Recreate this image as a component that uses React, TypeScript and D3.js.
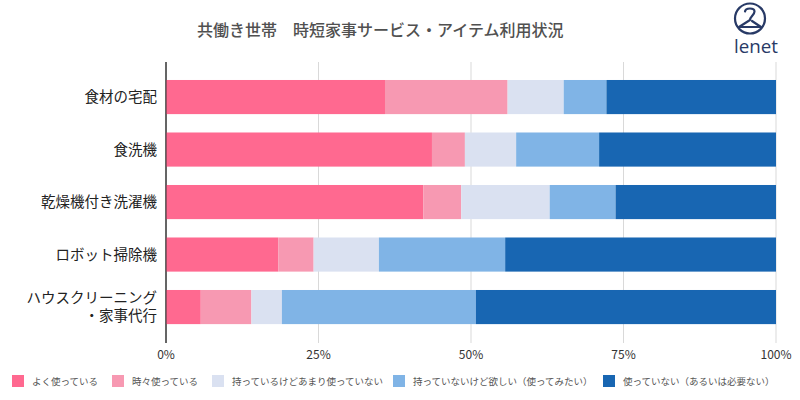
import React from "react";
import * as d3 from "d3";

const categories = [
  ["食材の宅配"],
  ["食洗機"],
  ["乾燥機付き洗濯機"],
  ["ロボット掃除機"],
  ["ハウスクリーニング", "・家事代行"],
];
const seriesNames = [
  "よく使っている",
  "時々使っている",
  "持っているけどあまり使っていない",
  "持っていないけど欲しい（使ってみたい）",
  "使っていない（あるいは必要ない）",
];
const oftenUse = [35.9, 43.6, 42.2, 18.4, 5.7];
const sometimesUse = [20.1, 5.4, 6.2, 5.8, 8.3];
const ownRarelyUse = [9.2, 8.4, 14.5, 10.7, 5.0];
const wantToTry = [7.0, 13.6, 10.8, 20.7, 31.8];
const notUse = [27.8, 29.0, 26.3, 44.4, 49.2];
const tickValues = [0, 25, 50, 75, 100];
const colors = ["#FF6990", "#F799B2", "#DAE1F1", "#80B4E6", "#1866B2"];

const FONT = "'Noto Sans CJK JP', 'Noto Sans', sans-serif";

export default function App() {
  const W = 800, H = 400;
  const x = d3.scaleLinear().domain([0, 100]).range([166, 776]);
  const y = d3
    .scaleBand<number>()
    .domain(d3.range(categories.length))
    .range([70.8, 333.3])
    .paddingInner(0.35)
    .paddingOuter(0.175);

  const table = categories.map((_, i) => ({
    i,
    s0: oftenUse[i],
    s1: sometimesUse[i],
    s2: ownRarelyUse[i],
    s3: wantToTry[i],
    s4: notUse[i],
  }));
  const keys = ["s0", "s1", "s2", "s3", "s4"];
  const stacked = d3.stack<any>().keys(keys)(table);

  const legendX = [12, 112, 212, 393, 603];

  return (
    <svg width={W} height={H} style={{ position: "absolute", left: 0, top: 0, background: "#fff" }}>
      <rect width={W} height={H} fill="#fff" />
      <text x={197} y={36} fontFamily={FONT} fontSize={16} fontWeight={500} fill="#505050">
        共働き世帯　時短家事サービス・アイテム利用状況
      </text>

      {/* logo */}
      <g stroke="#283a66" fill="none" strokeWidth={2.2} strokeLinecap="round" strokeLinejoin="round">
        <circle cx={750} cy={18.5} r={15} />
        <path d="M745,11.5 C745.5,7.5 754.5,7.5 754.5,11.5 C754.5,15 750,16.5 750,20 L739,27 L761,27 L752,21" />
      </g>
      <text x={734} y={53} fontFamily="'Open Sans', 'DejaVu Sans', sans-serif" fontSize={19} fontWeight={400}
        fill="#283a66" textLength={44} lengthAdjust="spacingAndGlyphs">
        lenet
      </text>

      {/* gridlines */}
      {tickValues.map((t) => (
        <line key={t} x1={x(t)} x2={x(t)} y1={62} y2={343}
          stroke={t === 0 ? "#333" : "#d9d9d9"} strokeWidth={1} />
      ))}

      {/* bars */}
      {stacked.map((layer, li) => (
        <g key={li} fill={colors[li]}>
          {layer.map((d, i) => (
            <rect key={i} x={x(d[0])} y={y(i)!} width={x(d[1]) - x(d[0])} height={y.bandwidth()} />
          ))}
        </g>
      ))}
      <line x1={x(0)} x2={x(0)} y1={62} y2={343} stroke="#333" strokeWidth={1} />

      {/* category labels */}
      {categories.map((lines, i) => {
        const cy = y(i)! + y.bandwidth() / 2;
        const lh = 18;
        return lines.map((l, k) => (
          <text key={`${i}-${k}`} x={157} y={cy + (k - (lines.length - 1) / 2) * lh + 5}
            textAnchor="end" fontFamily={FONT} fontSize={14.5} fill="#222">
            {l}
          </text>
        ));
      })}

      {/* tick labels */}
      {tickValues.map((t) => (
        <text key={t} x={x(t)} y={359} textAnchor="middle" fontFamily={FONT} fontSize={12} fill="#333">
          {t}%
        </text>
      ))}

      {/* legend */}
      {seriesNames.map((n, i) => (
        <g key={i}>
          <rect x={legendX[i]} y={375} width={12} height={12} fill={colors[i]} />
          <text x={legendX[i] + 20} y={385} fontFamily={FONT} fontSize={9.5} fill="#555">
            {n}
          </text>
        </g>
      ))}
    </svg>
  );
}
